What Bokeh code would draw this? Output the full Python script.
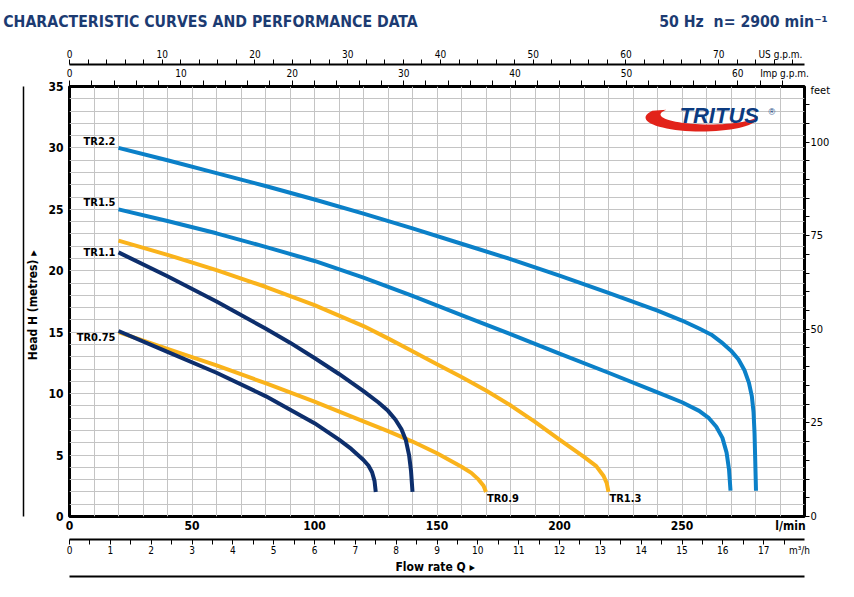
import numpy as np
from bokeh.plotting import figure
from bokeh.models import (Range1d, LinearAxis, FixedTicker, SingleIntervalTicker, Label)
from bokeh.core.properties import value
from bokeh.embed import file_html
from bokeh.resources import INLINE

# ---------------- data (flow in l/min, head in metres) ----------------
tr22_q = [20, 40, 60, 80, 100, 120, 140, 160, 180, 200, 220, 240, 250, 257, 262, 266, 270, 273, 275.5, 277.3, 278.5, 279.2, 279.6, 279.9, 280.2]
tr22_h = [30.0, 29.0, 27.95, 26.9, 25.8, 24.65, 23.45, 22.2, 20.95, 19.6, 18.2, 16.75, 15.95, 15.3, 14.8, 14.2, 13.5, 12.8, 11.9, 10.9, 9.8, 8.5, 6.8, 4.5, 2.1]

tr15_q = [20, 40, 60, 80, 100, 120, 140, 160, 180, 200, 220, 240, 250, 257, 261, 264, 266.5, 268.2, 269.2, 269.8]
tr15_h = [25.0, 24.05, 23.05, 21.95, 20.8, 19.45, 17.95, 16.4, 14.85, 13.25, 11.7, 10.1, 9.3, 8.6, 8.0, 7.3, 6.4, 5.2, 3.8, 2.1]

tr13_q = [20, 40, 60, 80, 100, 120, 130, 140, 150, 160, 170, 180, 190, 200, 210, 215, 218, 219.3, 220]
tr13_h = [22.45, 21.3, 20.05, 18.7, 17.2, 15.5, 14.5, 13.45, 12.4, 11.35, 10.25, 9.05, 7.7, 6.25, 4.85, 4.1, 3.3, 2.7, 2.0]

tr11_q = [20, 40, 60, 80, 90, 100, 110, 120, 126, 130, 133, 135.5, 137.3, 138.6, 139.4, 140]
tr11_h = [21.5, 19.55, 17.5, 15.3, 14.15, 12.9, 11.6, 10.2, 9.3, 8.6, 7.9, 7.1, 6.2, 5.0, 3.7, 2.0]

tr09_q = [20, 40, 60, 80, 100, 120, 130, 140, 150, 160, 164, 167, 169, 170]
tr09_h = [15.0, 13.65, 12.3, 10.85, 9.35, 7.75, 6.95, 6.1, 5.15, 4.05, 3.55, 3.0, 2.5, 2.0]

tr075_q = [20, 40, 60, 80, 100, 110, 115, 120, 122, 123.5, 124.5, 125]
tr075_h = [15.1, 13.4, 11.7, 9.8, 7.6, 6.25, 5.5, 4.6, 4.15, 3.6, 2.9, 2.0]

models_start = ["TR2.2", "TR1.5", "TR1.1", "TR0.75"]
models_end = ["TR0.9", "TR1.3"]

head_ticks = [0, 5, 10, 15, 20, 25, 30, 35]
flow_ticks = [0, 50, 100, 150, 200, 250]
m3h_ticks = list(range(0, 18))
us_ticks = list(range(0, 80, 10))
imp_ticks = list(range(0, 70, 10))
ft_ticks = [0, 25, 50, 75, 100]

TITLE = "CHARACTERISTIC CURVES AND PERFORMANCE DATA"
SUBTITLE = "50 Hz\u00A0\u00A0n= 2900 min\u207B\u00B9"

Q_MAX = 300.0
H_MAX = 35.0
LPM_PER_USGPM = 3.785411784
LPM_PER_IMPGPM = 4.54609
LPM_PER_M3H = 1000.0 / 60.0
M_PER_FT = 0.3048

# ---------------- styling ----------------
NARROW = "DejaVu Sans Condensed, Liberation Sans, sans-serif"
LBLUE = "#0b80c8"
NAVY = "#0d2e6c"
ORANGE = "#fab31b"
TITLE_C = "#1c3b72"
GRID_C = "#c4c4c4"

FL, FR, FT, FB = 69, 804, 86, 516   # frame edges in canvas pixels
W, H = 854, 597
PX_PER_LPM = (FR - FL) / Q_MAX

p = figure(width=W, height=H, x_range=Range1d(0, Q_MAX), y_range=Range1d(0, H_MAX),
           output_backend="svg", toolbar_location=None,
           min_border_left=FL, min_border_right=W - FR, min_border_top=FT, min_border_bottom=H - FB,
           background_fill_color="white", border_fill_color="white")
p.outline_line_color = "black"
p.outline_line_width = 3

p.extra_x_ranges = {"imp": Range1d(0, Q_MAX / LPM_PER_IMPGPM),
                    "us": Range1d(0, Q_MAX / LPM_PER_USGPM),
                    "m3h": Range1d(0, Q_MAX / LPM_PER_M3H)}
p.extra_y_ranges = {"ft": Range1d(0, H_MAX / M_PER_FT)}

# grid
p.xgrid.ticker = SingleIntervalTicker(interval=10)
p.ygrid.ticker = SingleIntervalTicker(interval=1)
p.grid.grid_line_color = GRID_C
p.grid.grid_line_width = 1


def lpm_at(px):
    return (px - FL) / PX_PER_LPM


# main bottom axis (l/min) -- the unit sits as a last label
LPM_UNIT_POS = lpm_at(790)
xa = p.xaxis[0]
xa.ticker = FixedTicker(ticks=flow_ticks + [LPM_UNIT_POS])
xa.major_label_overrides = {LPM_UNIT_POS: "l/min"}
xa.axis_line_color = None
xa.major_tick_out = 0
xa.major_tick_in = 0
xa.major_tick_line_color = None
xa.minor_tick_line_color = None
xa.major_label_text_font = NARROW
xa.major_label_text_font_style = "bold"
xa.major_label_text_font_size = "12px"
xa.major_label_text_color = "black"
xa.major_label_standoff = 2
xa.axis_label = " "
xa.axis_label_text_font_size = "1px"
xa.axis_label_standoff = 0

# main left axis (m)
ya = p.yaxis[0]
ya.ticker = FixedTicker(ticks=head_ticks)
ya.axis_line_color = None
ya.major_tick_out = 0
ya.major_tick_in = 0
ya.major_tick_line_color = None
ya.minor_tick_line_color = None
ya.major_label_text_font = NARROW
ya.major_label_text_font_style = "bold"
ya.major_label_text_font_size = "12px"
ya.major_label_text_color = "black"
ya.major_label_standoff = 6
ya.axis_label = "Head H  (metres)  \u25B8"
ya.axis_label_text_font = NARROW
ya.axis_label_text_font_style = "bold"
ya.axis_label_text_font_size = "12px"
ya.axis_label_text_color = "black"
ya.axis_label_standoff = 5

# left vertical rule: bare axis line
lrule = LinearAxis(ticker=FixedTicker(ticks=[]))
lrule.axis_line_color = "black"
lrule.axis_line_width = 1.5
lrule.major_tick_line_color = None
lrule.minor_tick_line_color = None
p.add_layout(lrule, "left")


def small_axis(ax, out=5, size="10px"):
    # labelled positions carry no tick mark; every tick mark is a minor tick
    ax.major_tick_line_color = None
    ax.major_tick_in = 0
    ax.major_tick_out = out
    ax.minor_tick_in = 0
    ax.minor_tick_out = out
    ax.minor_tick_line_color = "black"
    ax.minor_tick_line_width = 1
    ax.major_label_text_font = NARROW
    ax.major_label_text_font_size = size
    ax.major_label_text_color = "black"


# right axis (feet)
FT_UNIT_POS = (FB - 90) / (FB - FT) * H_MAX / M_PER_FT
ft_ax = LinearAxis(y_range_name="ft",
                   ticker=FixedTicker(ticks=ft_ticks + [FT_UNIT_POS], minor_ticks=list(range(0, 115, 5))))
ft_ax.major_label_overrides = {FT_UNIT_POS: "feet"}
small_axis(ft_ax, out=5, size="11px")
ft_ax.axis_line_color = None
ft_ax.major_label_standoff = 1
p.add_layout(ft_ax, "right")

# top axis 1 (Imp g.p.m.) on the frame edge
IMP_UNIT_POS = lpm_at(784) / LPM_PER_IMPGPM
imp_ax = LinearAxis(x_range_name="imp",
                    ticker=FixedTicker(ticks=imp_ticks + [IMP_UNIT_POS], minor_ticks=list(range(0, 66, 2))))
imp_ax.major_label_overrides = {IMP_UNIT_POS: "Imp g.p.m."}
small_axis(imp_ax, out=6)
imp_ax.axis_line_color = None
imp_ax.major_label_standoff = 2
p.add_layout(imp_ax, "above")

# top axis 2 (US g.p.m.)
US_UNIT_POS = lpm_at(780) / LPM_PER_USGPM
us_ax = LinearAxis(x_range_name="us",
                   ticker=FixedTicker(ticks=us_ticks + [US_UNIT_POS], minor_ticks=list(range(0, 80, 2))))
us_ax.major_label_overrides = {US_UNIT_POS: "US g.p.m."}
small_axis(us_ax, out=5)
us_ax.axis_line_color = "black"
us_ax.axis_line_width = 2
us_ax.major_label_standoff = 0
p.add_layout(us_ax, "above")

# heading row: title on the left, frequency / speed on the right
T_POS = lpm_at(210)
S_POS = lpm_at(743)
hdr = LinearAxis(ticker=FixedTicker(ticks=[T_POS, S_POS]))
hdr.major_label_overrides = {T_POS: TITLE, S_POS: SUBTITLE}
hdr.axis_line_color = None
hdr.major_tick_out = 0
hdr.major_tick_in = 0
hdr.major_tick_line_color = None
hdr.minor_tick_line_color = None
hdr.major_label_text_font = NARROW
hdr.major_label_text_font_style = "bold"
hdr.major_label_text_font_size = "15.7px"
hdr.major_label_text_color = TITLE_C
hdr.major_label_standoff = 15
p.add_layout(hdr, "above")

# bottom axis 2 (m3/h)
M3_UNIT_POS = lpm_at(799) / LPM_PER_M3H
m3_ax = LinearAxis(x_range_name="m3h",
                   ticker=FixedTicker(ticks=m3h_ticks + [M3_UNIT_POS],
                                      minor_ticks=[t * 0.5 for t in range(0, 36)]))
m3_ax.major_label_overrides = {M3_UNIT_POS: "m\u00B3/h"}
small_axis(m3_ax, out=5, size="10px")
m3_ax.major_tick_out = 3
m3_ax.axis_line_color = "black"
m3_ax.axis_line_width = 2
m3_ax.major_label_standoff = 0
m3_ax.axis_label = "Flow rate Q  \u25B8"
m3_ax.axis_label_text_font = NARROW
m3_ax.axis_label_text_font_style = "bold"
m3_ax.axis_label_text_font_size = "12px"
m3_ax.axis_label_text_color = "black"
m3_ax.axis_label_standoff = 1
p.add_layout(m3_ax, "below")

# bottom rule: a bare axis line under the flow-rate title
rule_ax = LinearAxis(x_range_name="m3h", ticker=FixedTicker(ticks=[]))
rule_ax.axis_line_color = "black"
rule_ax.axis_line_width = 2
rule_ax.major_tick_line_color = None
rule_ax.minor_tick_line_color = None
p.add_layout(rule_ax, "below")

# ---------------- curves ----------------
for q, h, c in [(tr22_q, tr22_h, LBLUE), (tr15_q, tr15_h, LBLUE),
                (tr13_q, tr13_h, ORANGE), (tr09_q, tr09_h, ORANGE),
                (tr11_q, tr11_h, NAVY), (tr075_q, tr075_h, NAVY)]:
    p.line(q, h, line_color=c, line_width=4, line_join="round")

# curve labels
lab_font = value(NARROW)
common = dict(text_font=lab_font, text_font_style="bold", text_font_size="11px", text_color="black")
p.text(x=[tr22_q[0], tr15_q[0]], y=[tr22_h[0], tr15_h[0]], text=models_start[:2],
       text_align="right", text_baseline="bottom", x_offset=-3, **common)
p.text(x=[tr11_q[0]], y=[tr11_h[0]], text=[models_start[2]],
       text_align="right", text_baseline="middle", x_offset=-3, **common)
p.text(x=[tr075_q[0]], y=[tr075_h[0]], text=[models_start[3]],
       text_align="right", text_baseline="top", x_offset=-3, **common)
p.text(x=[tr09_q[-1], tr13_q[-1]], y=[tr09_h[-1], tr13_h[-1]], text=models_end,
       text_align="left", text_baseline="top", x_offset=1, **common)

# ---------------- logo (inside the frame) ----------------
def to_data(px, py):
    return ((np.asarray(px) - FL) / (FR - FL) * Q_MAX, (FB - np.asarray(py)) / (FB - FT) * H_MAX)

t_out = np.linspace(-0.5, np.pi, 40)
t_in = t_out[::-1]
ox = 701 - 56 * np.cos(t_out); oy = 117 + 14 * np.sin(t_out)
ix = 709 - 49 * np.cos(t_in); iy = 114 + 10 * np.sin(t_in)
sx, sy = to_data(np.concatenate([ox, ix]), np.concatenate([oy, iy]))
p.patch(list(sx), list(sy), fill_color="#e2231a", line_color=None)


def lab(text, cx, cy, size, style="bold", color="black", align="left", font=NARROW):
    p.add_layout(Label(x=cx - FL, y=FB - cy, x_units="screen", y_units="screen", text=text,
                       text_font=font, text_font_style=style, text_font_size=size,
                       text_color=color, text_align=align, text_baseline="middle"))


lab("TRITUS", 679, 115, "22px", style="bold italic", color="#0c3b80", font="Liberation Sans")
lab("\u00AE", 768, 111, "9px", style="normal", color="#0c3b80", font="Liberation Sans")

open("out.html", "w").write(file_html(p, INLINE))
